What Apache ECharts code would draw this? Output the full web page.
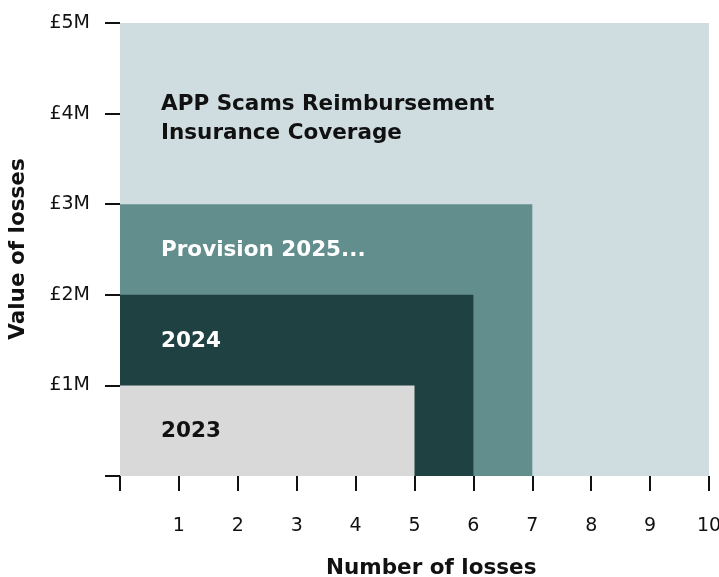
<!DOCTYPE html>
<html>
<head>
<meta charset="utf-8">
<script src="https://cdn.jsdelivr.net/npm/echarts@6/dist/echarts.min.js"></script>
<style>
  html, body { margin:0; padding:0; background:#fff; }
  #chart { width:719px; height:577px; }
</style>
</head>
<body>
<div id="chart"></div>
<script>
// nested boxes, outermost first
const labels = ['APP Scams Reimbursement\nInsurance Coverage', 'Provision 2025...', '2024', '2023'];
const lossCounts = [10, 7, 6, 5];          // number of losses
const lossValues = [5, 3, 2, 1];           // value of losses, £M
const fills = ['#cfdce0', '#628f8d', '#1f4142', '#d9d9d9'];
const textColors = ['#111', '#fff', '#fff', '#111'];

const xTicks = [0, 1, 2, 3, 4, 5, 6, 7, 8, 9, 10];
const yTicks = [0, 1, 2, 3, 4, 5];

const FONT = 'DejaVu Sans';

const chart = echarts.init(document.getElementById('chart'), null, { renderer: 'canvas' });

function renderBox(params, api){
  const i = params.dataIndex;
  const lower = i + 1 < lossValues.length ? lossValues[i + 1] : 0;
  const p0 = api.coord([0, 0]);
  const p1 = api.coord([api.value(0), api.value(1)]);
  const mid = api.coord([0, (api.value(1) + lower) / 2]);
  return {
    type: 'group',
    children: [
      { type: 'rect', shape: { x: p0[0], y: p1[1], width: p1[0] - p0[0], height: p0[1] - p1[1] },
        style: { fill: fills[i] } },
      { type: 'text', x: p0[0] + 41, y: mid[1] + (i === 0 ? 5 : 1),
        style: { text: labels[i], fill: textColors[i], font: `bold 21.5px "${FONT}"`,
                 verticalAlign: 'middle', align: 'left', lineHeight: 29 } }
    ]
  };
}

chart.setOption({
  animation: false,
  grid: { left: 120, right: 10, top: 23, bottom: 101, containLabel: false, outerBoundsMode: 'none' },
  xAxis: {
    type: 'value', min: xTicks[0], max: xTicks[xTicks.length - 1], interval: 1,
    offset: 5,
    axisLine: { show: false },
    axisTick: { show: true, length: 15, lineStyle: { color: '#111', width: 2 } },
    splitLine: { show: false },
    axisLabel: { margin: 36, color: '#111', fontSize: 19, fontFamily: FONT,
                 formatter: v => v === 0 ? '' : String(v) }
  },
  yAxis: {
    type: 'value', min: yTicks[0], max: yTicks[yTicks.length - 1], interval: 1,
    axisLine: { show: false },
    axisTick: { show: true, length: 15, lineStyle: { color: '#111', width: 2 } },
    splitLine: { show: false },
    axisLabel: { margin: 30, color: '#111', fontSize: 19, fontFamily: FONT,
                 formatter: v => v === 0 ? '' : '£' + v + 'M' }
  },
  graphic: [
    { type: 'text', left: 326, top: 557,
      style: { text: 'Number of losses', font: `bold 21.5px "${FONT}"`, fill: '#111' } },
    { type: 'text', x: 18, y: 249, rotation: Math.PI / 2,
      style: { text: 'Value of losses', font: `bold 21.5px "${FONT}"`, fill: '#111',
               align: 'center', verticalAlign: 'middle' } }
  ],
  series: [{
    type: 'custom',
    renderItem: renderBox,
    encode: { x: 0, y: 1 },
    data: lossCounts.map((c, i) => [c, lossValues[i]])
  }]
});
</script>
</body>
</html>
